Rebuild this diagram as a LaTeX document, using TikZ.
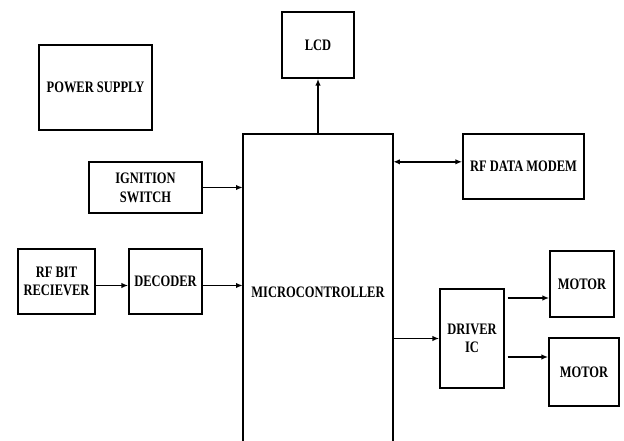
\documentclass[tikz,border=0pt]{standalone}
\usepackage{fontspec}
\setmainfont{Liberation Serif}[FakeStretch=0.78]
\usetikzlibrary{positioning,arrows.meta}

\begin{document}
\begin{tikzpicture}[
  x=0.75pt, y=0.75pt,
  font=\fontsize{12}{14}\selectfont\bfseries,
  % plain rectangular block, size set per node
  block/.style={
    draw, rectangle, align=center,
    inner sep=2pt, line width=1.3pt
  },
  link/.style={-{Latex[length=5pt,width=4pt]}, line width=1.3pt},
  duplex/.style={{Latex[length=5pt,width=4pt]}-{Latex[length=5pt,width=4pt]}, line width=1.3pt},
]

% ---------------------------------------------------------------
% Canvas: 624 x 441 px, origin bottom left
% ---------------------------------------------------------------
\useasboundingbox (0,0) rectangle (624,441);

% --- Central controller (bottom runs off the page) ---
\node[align=center, minimum width=112.5pt, minimum height=237.75pt,
      inner sep=0pt] (mc) at (318,148.5) {MICROCONTROLLER};
\draw[line width=1.3pt]
  (mc.south west) -- (mc.north west) -- (mc.north east) -- (mc.south east);

% --- Blocks on the left ---
\node[block, minimum width=84.75pt, minimum height=63.75pt]
  (power) at (95.5,353.5) {POWER SUPPLY};
\node[block, minimum width=84.75pt, minimum height=38.25pt]
  (ign) at (145.5,253.5) {IGNITION\\SWITCH};
\node[block, minimum width=57.75pt, minimum height=48.75pt]
  (rfbit) at (56.5,159.5) {RF BIT\\RECIEVER};
\node[block, minimum width=54.75pt, minimum height=48.75pt]
  (dec) at (165.5,159.5) {DECODER};

% --- Blocks on top and on the right ---
\node[block, minimum width=54pt, minimum height=49.5pt]
  (lcd) at (318,396) {LCD};
\node[block, minimum width=90.75pt, minimum height=48.75pt]
  (modem) at (523.5,274.5) {RF DATA MODEM};
\node[block, minimum width=48pt, minimum height=74.25pt]
  (drv) at (472,102.5) {DRIVER\\IC};
\node[block, minimum width=48pt, minimum height=49.5pt]
  (mot1) at (582,157) {MOTOR};
\node[block, minimum width=52.5pt, minimum height=51pt]
  (mot2) at (584,69) {MOTOR};

% ---------------------------------------------------------------
% Connections
% ---------------------------------------------------------------
\draw[link] (ign.east) -- (ign.east -| mc.west);
\draw[link] ([yshift=-3pt]rfbit.east) -- ([yshift=-3pt]dec.west);
\draw[link] ([yshift=-3pt]dec.east) -- ([yshift=-3pt]dec.east -| mc.west);
\draw[link] (mc.north) -- (lcd.south);
\draw[duplex] ([yshift=3.5pt]modem.west -| mc.east) -- ([yshift=3.5pt]modem.west);
\draw[link] (drv.west -| mc.east) -- (drv.west);
\draw[link] ([xshift=2pt]drv.east |- 0,143) -- (mot1.west |- 0,143);
\draw[link] ([xshift=2pt]drv.east |- 0,84) -- (mot2.west |- 0,84);

\end{tikzpicture}
\end{document}
